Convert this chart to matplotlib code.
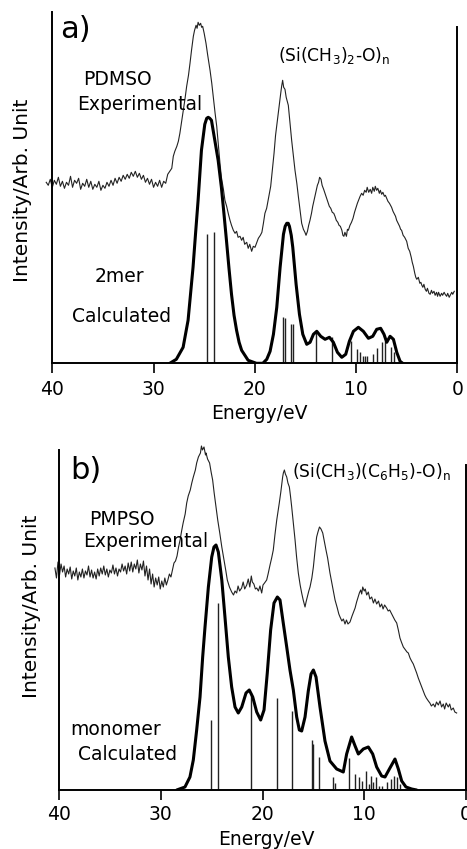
import matplotlib
matplotlib.use("Agg")
import matplotlib.pyplot as plt

plt.rcParams['font.family'] = ['DejaVu Sans']
plt.rcParams['mathtext.default'] = 'regular'

# ---------------- data (energies in eV, intensities in arbitrary units) -------------
# Panel a: PDMSO experimental spectrum
exp_a_energy = [40.6, 40.4, 40.2, 40.0, 39.8, 39.6, 39.4, 39.2, 39.0, 38.8, 38.6, 38.4, 38.2, 38.0,
                37.8, 37.6, 37.4, 37.2, 37.0, 36.8, 36.6, 36.4, 36.2, 36.0, 35.8, 35.6, 35.4, 35.2,
                35.0, 34.8, 34.6, 34.4, 34.2, 34.0, 33.8, 33.6, 33.4, 33.2, 33.0, 32.8, 32.6, 32.4,
                32.2, 32.0, 31.8, 31.6, 31.4, 31.2, 31.0, 30.8, 30.6, 30.4, 30.2, 30.0, 29.8, 29.6,
                29.4, 29.2, 29.0, 28.8, 28.6, 28.4, 28.2, 28.05, 27.9, 27.7, 27.55, 27.4, 27.25,
                27.06, 26.9, 26.73, 26.55, 26.4, 26.25, 26.07, 25.95, 25.8, 25.7, 25.6, 25.48, 25.35,
                25.25, 25.15, 25.0, 24.82, 24.65, 24.42, 24.25, 24.1, 23.92, 23.76, 23.6, 23.44, 23.3,
                23.1, 22.95, 22.78, 22.6, 22.45, 22.3, 22.12, 21.95, 21.8, 21.65, 21.46, 21.3, 21.15,
                21.0, 20.8, 20.65, 20.5, 20.31, 20.15, 19.98, 19.8, 19.65, 19.45, 19.3, 19.15, 19.0,
                18.83, 18.65, 18.43, 18.25, 18.1, 17.95, 17.77, 17.6, 17.44, 17.35, 17.25, 17.15,
                17.02, 16.9, 16.8, 16.69, 16.55, 16.36, 16.2, 16.03, 15.85, 15.7, 15.55, 15.37, 15.2,
                15.05, 14.94, 14.8, 14.68, 14.55, 14.4, 14.28, 14.15, 14.0, 13.82, 13.7, 13.6, 13.46,
                13.35, 13.2, 13.07, 12.95, 12.8, 12.64, 12.5, 12.35, 12.2, 12.08, 11.95, 11.8, 11.68,
                11.55, 11.4, 11.3, 11.2, 11.1, 10.95, 10.85, 10.76, 10.6, 10.45, 10.3, 10.15, 10.0,
                9.87, 9.75, 9.6, 9.45, 9.3, 9.15, 9.0, 8.9, 8.75, 8.6, 8.46, 8.35, 8.2, 8.1, 7.97,
                7.85, 7.7, 7.6, 7.47, 7.35, 7.2, 7.1, 6.98, 6.85, 6.7, 6.6, 6.49, 6.35, 6.2, 6.1,
                5.99, 5.85, 5.7, 5.6, 5.5, 5.35, 5.2, 5.1, 5.0, 4.85, 4.7, 4.55, 4.45, 4.34, 4.2, 4.1,
                4.0, 3.85, 3.7, 3.6, 3.5, 3.4, 3.3, 3.17, 3.05, 2.95, 2.8, 2.68, 2.55, 2.45, 2.3,
                2.19, 2.05, 1.95, 1.85, 1.7, 1.55, 1.45, 1.3, 1.2, 1.05, 0.95, 0.8, 0.7, 0.55, 0.45, 0.3]
exp_a_int = [181, 178, 184, 176, 183, 179, 186, 177, 182, 175, 181, 178, 187, 176,
             183, 180, 185, 174, 180, 177, 184, 176, 182, 174, 179, 176, 182, 173,
             178, 175, 181, 177, 183, 178, 185, 180, 186, 182, 188, 184, 189, 185,
             191, 187, 192, 186, 190, 184, 188, 181, 185, 179, 184, 176, 181, 177,
             183, 176, 182, 180, 189, 192, 195, 207, 212, 217, 222, 230, 240,
             253, 264, 277, 288, 300, 313, 327, 333, 338, 335, 341, 338, 340,
             336, 337, 330, 320, 308, 293, 280, 266, 250, 237, 218, 200, 186,
             174, 163, 157, 149, 143, 138, 133, 130, 132, 126, 127, 123, 126,
             119, 121, 115, 119, 112, 117, 116, 121, 125, 128, 131, 140, 150,
             155, 165, 177, 195, 210, 228, 243, 258, 270, 277, 283, 276,
             274, 266, 262, 258, 243, 223, 208, 193, 180, 167, 155, 140, 134,
             131, 128, 132, 138, 143, 150, 157, 163, 170, 178, 181, 186, 184,
             178, 174, 170, 166, 162, 157, 155, 151, 150, 147, 143, 141, 138,
             137, 133, 128, 127, 131, 127, 134, 133, 138, 141, 145, 151, 156,
             160, 163, 167, 170, 168, 173, 171, 176, 171, 174, 170, 176, 172, 177, 173,
             175, 170, 173, 169, 171, 167, 168, 165, 162, 160, 158, 156, 152, 149, 147,
             143, 140, 137, 134, 133, 128, 126, 124, 122, 115, 112, 106, 101, 97, 90, 86,
             84, 86, 80, 81, 78, 76, 79, 74, 72, 75, 70, 69, 73, 70, 72,
             68, 71, 67, 71, 67, 70, 68, 71, 69, 67, 70, 66, 68, 71, 69, 72]

# Panel a: 2mer calculated (broadened) spectrum
calc_a_energy = [28.4, 27.75, 27.08, 26.59, 26.1, 25.85, 25.6, 25.27, 24.94, 24.75, 24.6, 24.45,
                 24.28, 23.95, 23.62, 23.3, 23.05, 22.8, 22.55, 22.3, 22.05, 21.8, 21.55, 21.3,
                 20.66, 19.84, 19.21, 18.82, 18.49, 18.16, 17.83, 17.5, 17.17, 17.0, 16.84, 16.7,
                 16.58, 16.4, 16.25, 15.92, 15.59, 15.26, 14.87, 14.54, 14.21, 13.88, 13.49, 13.06,
                 12.63, 12.24, 11.84, 11.41, 11.02, 10.66, 10.26, 9.77, 9.28, 8.78, 8.35, 7.96,
                 7.57, 7.24, 6.97, 6.64, 6.31, 5.98, 5.65, 5.39]
calc_a_int = [0, 4, 16, 43, 96, 130, 163, 213, 239, 245, 246, 245,
              243, 223, 203, 176, 150, 123, 95, 69, 48, 33, 21, 13,
              3, 0, 0, 4, 12, 29, 56, 96, 129, 137, 140, 140,
              137, 128, 116, 79, 49, 29, 19, 21, 29, 32, 27, 24,
              26, 21, 11, 6, 9, 22, 32, 36, 32, 25, 27, 34,
              35, 29, 21, 27, 24, 11, 2, 0]

# Panel a: calculated line (stick) spectrum
stick_a_energy = [24.75, 24.03, 17.18, 16.98, 16.39, 16.19, 13.95, 12.4, 10.49, 9.93, 9.6,
                  9.34, 9.11, 8.88, 8.35, 7.96, 7.47, 7.14, 6.58, 6.25]
stick_a_int = [129, 131, 46, 45, 39, 39, 31, 26, 22, 14, 11, 7, 7, 7, 9, 15, 21, 22, 16, 11]

# Panel b: PMPSO experimental spectrum
exp_b_energy = [40.4, 40.25, 40.1, 39.95, 39.8, 39.65, 39.5, 39.35, 39.2, 39.05, 38.9, 38.75,
                38.6, 38.45, 38.3, 38.15, 38.0, 37.85, 37.7, 37.55, 37.4, 37.25, 37.1, 36.95,
                36.8, 36.65, 36.5, 36.35, 36.2, 36.05, 35.9, 35.75, 35.6, 35.45, 35.3, 35.15,
                35.0, 34.85, 34.7, 34.55, 34.4, 34.25, 34.1, 33.95, 33.8, 33.65, 33.5, 33.35,
                33.2, 33.05, 32.9, 32.75, 32.6, 32.45, 32.3, 32.15, 32.0, 31.85, 31.7, 31.55,
                31.4, 31.25, 31.1, 30.95, 30.8, 30.65, 30.5, 30.35, 30.2, 30.05, 29.9, 29.75,
                29.6, 29.45, 29.3, 29.15, 29.0, 28.85, 28.7, 28.55, 28.4, 28.25, 28.1, 27.95,
                27.8, 27.6, 27.45, 27.3, 27.1, 26.95, 26.8, 26.6, 26.47, 26.3, 26.1, 26.0, 25.9,
                25.75, 25.6, 25.55, 25.4, 25.2, 25.05, 24.9, 24.75, 24.57, 24.4, 24.2, 24.0,
                23.78, 23.6, 23.46, 23.25, 23.03, 22.85, 22.7, 22.54, 22.4, 22.25, 22.05, 21.9,
                21.75, 21.55, 21.4, 21.25, 21.1, 21.0, 20.85, 20.7, 20.57, 20.4, 20.25, 20.08,
                19.95, 19.8, 19.59, 19.45, 19.26, 19.1, 18.94, 18.78, 18.6, 18.45, 18.35, 18.2,
                18.02, 17.95, 17.85, 17.75, 17.62, 17.5, 17.36, 17.25, 17.13, 17.0, 16.8, 16.65,
                16.48, 16.3, 16.15, 16.0, 15.82, 15.72, 15.6, 15.45, 15.33, 15.15, 15.0, 14.85,
                14.68, 14.55, 14.4, 14.25, 14.08, 13.95, 13.76, 13.6, 13.37, 13.15, 12.87, 12.65,
                12.5, 12.38, 12.2, 12.05, 11.89, 11.75, 11.6, 11.4, 11.2, 11.05, 10.9, 10.75,
                10.6, 10.48, 10.35, 10.25, 10.15, 10.0, 9.9, 9.76, 9.6, 9.45, 9.27, 9.1, 8.95,
                8.78, 8.6, 8.45, 8.29, 8.15, 8.0, 7.8, 7.65, 7.5, 7.3, 7.15, 7.0, 6.81, 6.65,
                6.49, 6.35, 6.16, 5.95, 5.8, 5.67, 5.5, 5.35, 5.18, 5.0, 4.85, 4.69, 4.5, 4.35,
                4.2, 4.05, 3.9, 3.7, 3.55, 3.4, 3.21, 3.05, 2.9, 2.72, 2.55, 2.4, 2.23, 2.1,
                1.95, 1.74, 1.6, 1.45, 1.25, 1.1, 0.92]
exp_b_int = [222, 212, 228, 215, 226, 218, 224, 213, 221, 216, 223, 211,
             219, 214, 222, 210, 218, 213, 221, 212, 219, 215, 224, 213,
             220, 212, 218, 211, 221, 214, 222, 216, 224, 215, 221, 213,
             220, 217, 225, 216, 222, 214, 221, 218, 226, 219, 224, 216,
             227, 219, 228, 218, 226, 221, 230, 217, 226, 220, 229, 214,
             224, 210, 221, 206, 216, 203, 212, 205, 213, 201, 209, 203,
             212, 205, 210, 216, 213, 220, 227, 229, 234, 243, 250, 259,
             267, 276, 287, 294, 300, 307, 313, 320, 327, 333, 337, 344, 340,
             343, 335, 337, 331, 327, 318, 310, 297, 283, 270, 257, 243,
             230, 219, 210, 203, 198, 195, 199, 197, 204, 199, 202, 208,
             201, 205, 211, 203, 214, 208, 206, 201, 202, 199, 204, 197,
             205, 207, 210, 216, 225, 232, 240, 255, 270, 280, 287, 298,
             313, 317, 320, 316, 313, 307, 303, 294, 283, 270, 250, 233,
             217, 205, 197, 190, 183, 188, 193, 199, 203, 212, 223, 238,
             253, 258, 263, 261, 257, 250, 240, 232, 217, 205, 190, 182,
             176, 173, 169, 171, 166, 170, 166, 168, 174, 178, 182, 188,
             193, 197, 200, 196, 203, 199, 201, 195, 198, 191, 193, 187, 191,
             186, 189, 183, 186, 181, 185, 182, 179, 180, 176, 173, 170, 167, 160,
             152, 148, 143, 140, 138, 137, 132, 129, 126, 121, 117, 112, 107, 103,
             99, 95, 92, 89, 87, 84, 86, 83, 88, 85, 89, 83, 86, 81,
             87, 83, 86, 80, 82, 78, 77]

# Panel b: monomer calculated (broadened) spectrum
calc_b_energy = [28.43, 27.62, 27.13, 26.8, 26.47, 26.14, 25.88, 25.65, 25.32, 24.99, 24.77,
                 24.57, 24.34, 24.0, 23.69, 23.36, 23.03, 22.7, 22.38, 22.04, 21.62, 21.3, 20.96,
                 20.57, 20.18, 19.85, 19.53, 19.2, 18.87, 18.54, 18.28, 17.96, 17.62, 17.3, 16.97,
                 16.64, 16.38, 16.15, 15.82, 15.5, 15.23, 15.0, 14.74, 14.35, 13.86, 13.37, 12.71,
                 12.06, 11.73, 11.24, 10.9, 10.58, 10.09, 9.6, 9.17, 8.78, 8.29, 7.96, 7.53, 6.98,
                 6.65, 6.32, 5.9, 5.34, 4.85]
calc_b_int = [0, 3, 13, 30, 60, 93, 133, 163, 203, 233, 243,
              245, 238, 210, 173, 133, 103, 83, 77, 83, 97, 100, 93,
              78, 70, 80, 117, 160, 187, 193, 190, 167, 143, 120, 100,
              73, 60, 59, 73, 99, 116, 120, 113, 83, 49, 29, 21,
              18, 36, 53, 44, 36, 41, 43, 36, 23, 14, 13, 21, 31,
              21, 9, 3, 1, 0]

# Panel b: calculated line (stick) spectrum
stick_b_energy = [25.06, 24.34, 21.16, 18.55, 17.07, 15.16, 15.0, 14.42, 13.1, 12.85, 11.47,
                  10.94, 10.49, 10.22, 9.86, 9.5, 9.31, 9.11, 8.85, 8.58, 8.26, 7.79, 7.37,
                  7.08, 6.81, 6.49]
stick_b_int = [70, 187, 97, 92, 79, 50, 46, 33, 13, 7, 32, 16, 13, 9, 19, 6, 14, 8, 13, 4, 4,
               8, 11, 14, 13, 6]

x_ticks = [40, 30, 20, 10, 0]

# ---------------- figure ----------------
W, H = 467, 849
fig = plt.figure(figsize=(W / 100, H / 100), dpi=100)
fig.patch.set_facecolor('white')


def fpos(x, y):
    return x / W, 1 - y / H


def make_axes(rect, ymax, right_top, pad):
    ax = fig.add_axes(rect)
    ax.set_xlim(40, 0)
    ax.set_ylim(0, ymax)
    ax.spines['top'].set_visible(False)
    for s in ('left', 'right', 'bottom'):
        ax.spines[s].set_linewidth(1.4)
        ax.spines[s].set_color('black')
    ax.spines['right'].set_bounds(0, right_top)
    ax.set_yticks([])
    ax.set_xticks(x_ticks)
    ax.tick_params(axis='x', direction='out', length=7.5, width=1.2, pad=pad,
                   labelsize=13.5, colors='black')
    ax.patch.set_alpha(0)
    return ax


ax_a = make_axes([52.3 / W, 1 - 363.3 / H, 405 / W, 351.3 / H], 351.3, 336, 4.5)
ax_b = make_axes([59 / W, 1 - 790 / H, 407 / W, 340 / H], 340, 325, 3.5)

for ax, ee, ei, ce, ci, se, si in (
        (ax_a, exp_a_energy, exp_a_int, calc_a_energy, calc_a_int, stick_a_energy, stick_a_int),
        (ax_b, exp_b_energy, exp_b_int, calc_b_energy, calc_b_int, stick_b_energy, stick_b_int)):
    ax.plot(ee, ei, color='#222222', lw=0.8, clip_on=False)
    ax.vlines(se, 0, si, color='#222222', lw=1.0)
    ax.plot(ce, ci, color='black', lw=2.2, solid_joinstyle='round', solid_capstyle='round')

# ---------------- text ----------------
txt = dict(color='black', fontsize=13.5)
ftxt = dict(color='black', fontsize=12.3)
# panel a
fig.text(*fpos(60, 30), 'a)', ha='left', va='center', fontsize=22)
fig.text(*fpos(278, 61), r'(Si(CH$_3$)$_2$-O)$_n$', ha='left', va='baseline', **ftxt)
fig.text(*fpos(83, 85), 'PDMSO', ha='left', va='baseline', **txt)
fig.text(*fpos(77, 110), 'Experimental', ha='left', va='baseline', **txt)
fig.text(*fpos(95, 282), '2mer', ha='left', va='baseline', **txt)
fig.text(*fpos(72, 322), 'Calculated', ha='left', va='baseline', **txt)
fig.text(*fpos(259, 419.5), 'Energy/eV', ha='center', va='baseline', **txt)
fig.text(*fpos(23, 190), 'Intensity/Arb. Unit', rotation=90, ha='center', va='center',
         fontsize=14.5)
# panel b
fig.text(*fpos(70, 471), 'b)', ha='left', va='center', fontsize=22)
fig.text(*fpos(292, 476.5), r'(Si(CH$_3$)(C$_6$H$_5$)-O)$_n$', ha='left', va='baseline', **ftxt)
fig.text(*fpos(89, 525), 'PMPSO', ha='left', va='baseline', **txt)
fig.text(*fpos(83, 547), 'Experimental', ha='left', va='baseline', **txt)
fig.text(*fpos(70, 735), 'monomer', ha='left', va='baseline', **txt)
fig.text(*fpos(78, 760), 'Calculated', ha='left', va='baseline', **txt)
fig.text(*fpos(266, 845), 'Energy/eV', ha='center', va='baseline', **txt)
fig.text(*fpos(32, 606), 'Intensity/Arb. Unit', rotation=90, ha='center', va='center',
         fontsize=14.5)

fig.savefig('out.png', dpi=100, facecolor='white')
